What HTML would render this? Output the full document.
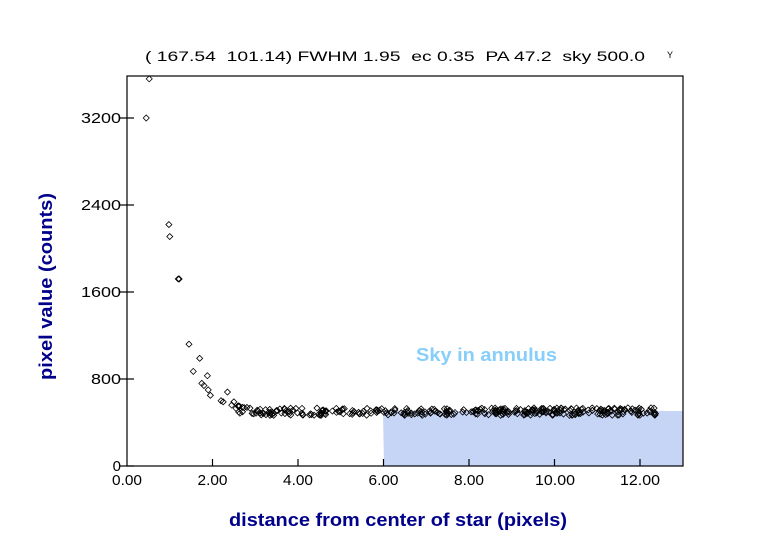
<!DOCTYPE html>
<html><head><meta charset="utf-8"><style>
html,body{margin:0;padding:0;background:#fff;}
svg{display:block;}
</style></head><body>
<svg id="s" width="761" height="550" xmlns="http://www.w3.org/2000/svg" font-family="Liberation Sans, sans-serif">
<rect width="761" height="550" fill="#fff"/>
<polygon points="383,411 683,411 683,466 384,466" fill="#c6d4f6"/>
<text x="416" y="361" font-size="18" font-weight="bold" fill="#87cefa" textLength="141" lengthAdjust="spacingAndGlyphs">Sky in annulus</text>
<g id="pts" fill="none" stroke="#000" stroke-width="0.8"></g>
<rect x="127" y="76" width="556" height="390" fill="none" stroke="#000" stroke-width="1.2"/>
<g stroke="#000" stroke-width="1.2">
<line x1="120" y1="466" x2="134" y2="466"/><line x1="120" y1="379" x2="134" y2="379"/><line x1="120" y1="292" x2="134" y2="292"/><line x1="120" y1="205" x2="134" y2="205"/><line x1="120" y1="118" x2="134" y2="118"/>
<line x1="212.5" y1="459" x2="212.5" y2="466"/><line x1="298" y1="459" x2="298" y2="466"/><line x1="383.5" y1="459" x2="383.5" y2="466"/><line x1="469" y1="459" x2="469" y2="466"/><line x1="554.5" y1="459" x2="554.5" y2="466"/><line x1="640" y1="459" x2="640" y2="466"/>
</g>
<g font-size="15" fill="#000" text-anchor="end">
<text x="121" y="471">0</text><text x="121" y="384" textLength="30" lengthAdjust="spacingAndGlyphs">800</text><text x="121" y="297" textLength="40" lengthAdjust="spacingAndGlyphs">1600</text><text x="121" y="210" textLength="40" lengthAdjust="spacingAndGlyphs">2400</text><text x="121" y="123" textLength="40" lengthAdjust="spacingAndGlyphs">3200</text>
</g>
<g font-size="15" fill="#000">
<text x="112" y="485" textLength="30" lengthAdjust="spacingAndGlyphs">0.00</text><text x="197.5" y="485" textLength="30" lengthAdjust="spacingAndGlyphs">2.00</text><text x="283" y="485" textLength="30" lengthAdjust="spacingAndGlyphs">4.00</text><text x="368.5" y="485" textLength="30" lengthAdjust="spacingAndGlyphs">6.00</text><text x="454" y="485" textLength="30" lengthAdjust="spacingAndGlyphs">8.00</text><text x="535" y="485" textLength="40" lengthAdjust="spacingAndGlyphs">10.00</text><text x="620" y="485" textLength="40" lengthAdjust="spacingAndGlyphs">12.00</text>
</g>
<text x="145" y="61" font-size="14" fill="#000" xml:space="preserve" textLength="500" lengthAdjust="spacingAndGlyphs">( 167.54  101.14) FWHM 1.95  ec 0.35  PA 47.2  sky 500.0</text>
<text x="667" y="58" font-size="9" fill="#000">Y</text>
<text x="229" y="526" font-size="18" font-weight="bold" fill="#00008b" textLength="338" lengthAdjust="spacingAndGlyphs">distance from center of star (pixels)</text>
<text transform="translate(52,380) rotate(-90)" font-size="18" font-weight="bold" fill="#00008b" textLength="187" lengthAdjust="spacingAndGlyphs">pixel value (counts)</text>
</svg>
<script>
(function(){
var g=document.getElementById('pts');var seed=7;
function rnd(){seed=(seed*16807)%2147483647;return seed/2147483647;}
function X(r){return 127+r*42.75;}function Y(v){return 466-v*87/800;}
var out='';
function add(r,v){var x=X(r),y=Y(v);out+='<polygon points="'+(x-3)+','+y+' '+x+','+(y-3)+' '+(x+3)+','+y+' '+x+','+(y+3)+'"/>';}
var fixed=[[0.45,3200],[0.52,3560],[0.98,2220],[1.0,2110],[1.2,1720],[1.22,1720],[1.45,1120],[1.55,870],[1.7,990],[1.75,760],[1.8,740],[1.88,830],[1.9,700],[1.95,650],[2.2,600],[2.25,590],[2.35,680],[2.45,560],[2.5,590],[2.55,530],[2.6,550],[2.7,540]];
fixed.forEach(function(p){add(p[0],p[1]);});
for(var i=0;i<330;i++){var r=2.6+rnd()*9.8;var v=500+3200*Math.exp(-r*r/1.38)+(rnd()-0.5)*70;add(r,v);}
g.innerHTML=out;
})();
</script>
</body></html>
